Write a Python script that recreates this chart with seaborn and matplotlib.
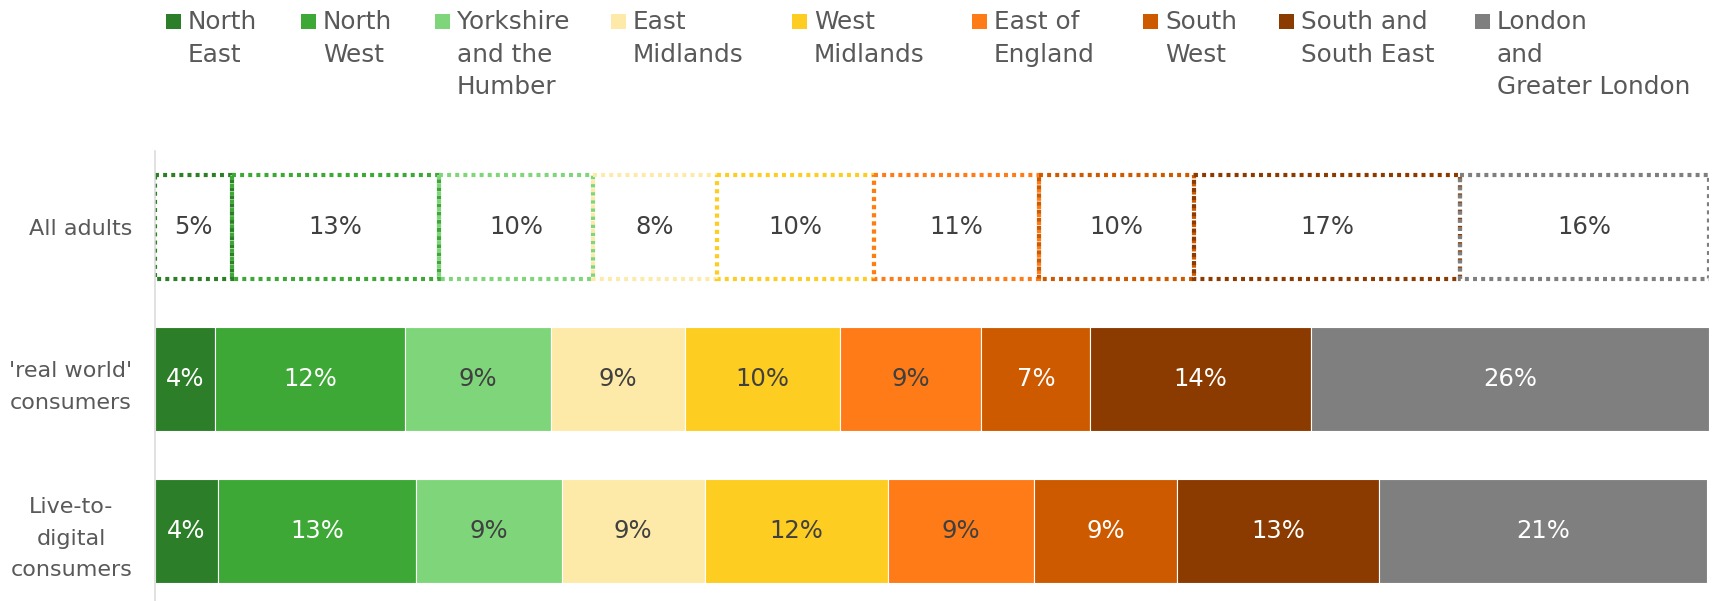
import numpy as np
import pandas as pd
import matplotlib
matplotlib.use("Agg")
import matplotlib.pyplot as plt
from matplotlib.patches import Rectangle
import seaborn as sns

# Regional split of each audience group (% of group)
regions = [
    "North East", "North West", "Yorkshire and the Humber", "East Midlands",
    "West Midlands", "East of England", "South West", "South and South East",
    "London and Greater London",
]
legend_labels = [
    "North\nEast", "North\nWest", "Yorkshire\nand the\nHumber", "East\nMidlands",
    "West\nMidlands", "East of\nEngland", "South\nWest", "South and\nSouth East",
    "London\nand\nGreater London",
]
groups = ["All adults", "'real world'\nconsumers", "Live-to-\ndigital\nconsumers"]

all_adults = [5.0, 13.3, 9.9, 8.0, 10.1, 10.6, 10.0, 17.1, 16.0]
real_world = [3.9, 12.2, 9.4, 8.6, 10.0, 9.1, 7.0, 14.2, 25.6]
live_to_digital = [4.1, 12.7, 9.4, 9.2, 11.8, 9.4, 9.2, 13.0, 21.1]

region_colors = [
    "#2C7E28", "#3DA835", "#7FD67A", "#FEEAA8", "#FDCD22",
    "#FE7B17", "#CE5A00", "#8B3A00", "#7F7F7F",
]
label_on_fill = [
    "white", "white", "#404040", "#404040", "#404040",
    "#404040", "white", "white", "white",
]

# Long-format table with the left edge of every stacked segment
rows = []
for g, vals in zip(groups, [all_adults, real_world, live_to_digital]):
    starts = np.concatenate([[0.0], np.cumsum(vals)[:-1]])
    for r, v, s in zip(regions, vals, starts):
        rows.append({"group": g, "region": r, "share": v, "left": s})
df = pd.DataFrame(rows)

sns.set_theme(style="white")
plt.rcParams["font.family"] = ["DejaVu Sans"]

W, H = 1718, 601
fig = plt.figure(figsize=(W / 100, H / 100), dpi=100)
ax = fig.add_axes([154.5 / W, (H - 607) / H, (1709 - 154.5) / W, 456 / H])

text_dark = "#404040"
text_grey = "#595959"

for i, region in enumerate(regions):
    sub = df[df["region"] == region]
    outline = sub[sub["group"] == groups[0]]
    filled = sub[sub["group"] != groups[0]]

    # Dotted, unfilled reference bar for all adults
    sns.barplot(
        data=outline, x="share", y="group", order=groups, orient="h",
        color=region_colors[i], saturation=1, width=0.68, fill=False,
        errorbar=None, left=outline["left"].to_numpy(),
        linewidth=3.0, linestyle=(0, (0.95, 1.0)), ax=ax,
    )
    ax.bar_label(
        ax.containers[-1], labels=[f"{v:.0f}%" for v in outline["share"]],
        label_type="center", color=text_dark, fontsize=17.5,
    )

    # Solid segments for the two consumer groups
    sns.barplot(
        data=filled, x="share", y="group", order=groups, orient="h",
        color=region_colors[i], saturation=1, width=0.68,
        errorbar=None, left=filled["left"].to_numpy(),
        edgecolor="white", linewidth=0.8, ax=ax,
    )
    ax.bar_label(
        ax.containers[-1], labels=[f"{v:.0f}%" for v in filled["share"]],
        label_type="center", color=label_on_fill[i], fontsize=17.5,
    )

ax.set_xlim(0, 100)
ax.set_ylim(2.5, -0.5)
ax.set_xlabel("")
ax.set_ylabel("")
ax.set_xticks([])
for side in ["top", "right", "bottom"]:
    ax.spines[side].set_visible(False)
ax.spines["left"].set_color("#D9D9D9")
ax.spines["left"].set_linewidth(1.1)
ax.tick_params(axis="y", length=0, pad=16, labelsize=16, labelcolor=text_grey)
for t in ax.get_yticklabels():
    t.set_multialignment("center")
    t.set_linespacing(1.72)

# Legend across the top: colour square followed by wrapped region name
legend_x = [166, 301, 435, 611, 792, 972, 1143, 1279, 1475]
for x, lab, c in zip(legend_x, legend_labels, region_colors):
    fig.add_artist(Rectangle((x / W, 1 - 29 / H), 15 / W, 15 / H,
                             transform=fig.transFigure, color=c, lw=0))
    fig.text((x + 22) / W, 1 - 10 / H, lab, ha="left", va="top",
             fontsize=17.8, color=text_grey, linespacing=1.45)

fig.savefig("out.png", dpi=100)
